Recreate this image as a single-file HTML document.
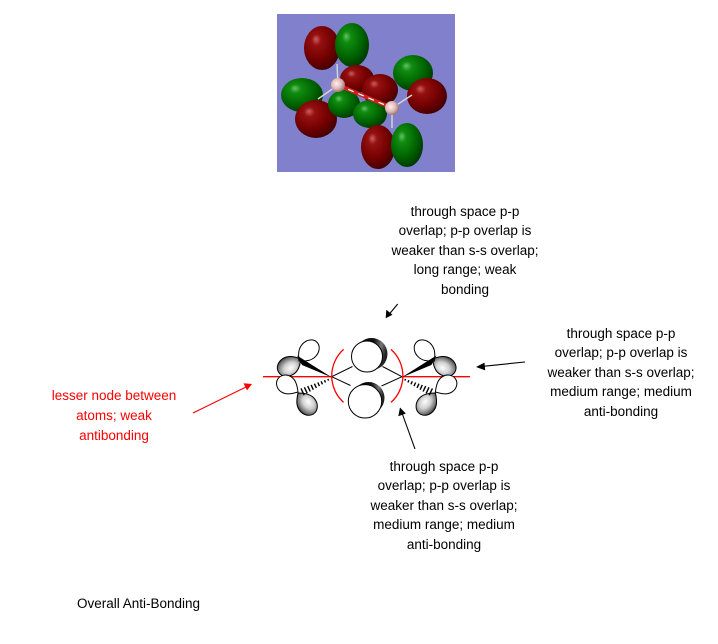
<!DOCTYPE html>
<html>
<head>
<meta charset="utf-8">
<style>
  html, body { margin:0; padding:0; background:#fff; }
  body { width:718px; height:644px; position:relative; overflow:hidden;
         font-family:"Liberation Sans", Arial, sans-serif; font-size:13.5px; color:#000; }
  .blk { position:absolute; text-align:center; line-height:19.4px; white-space:nowrap; }
  svg { position:absolute; left:0; top:0; }
</style>
</head>
<body>
<svg width="718" height="644" viewBox="0 0 718 644" xmlns="http://www.w3.org/2000/svg">
  <defs>
    <radialGradient id="rg" cx="0.4" cy="0.38" r="0.65" fx="0.33" fy="0.3">
      <stop offset="0" stop-color="#c86060"/>
      <stop offset="0.2" stop-color="#961010"/>
      <stop offset="0.65" stop-color="#720000"/>
      <stop offset="1" stop-color="#420000"/>
    </radialGradient>
    <radialGradient id="gg" cx="0.4" cy="0.38" r="0.65" fx="0.33" fy="0.3">
      <stop offset="0" stop-color="#68c068"/>
      <stop offset="0.2" stop-color="#108c10"/>
      <stop offset="0.65" stop-color="#006400"/>
      <stop offset="1" stop-color="#003800"/>
    </radialGradient>
    <radialGradient id="pk" cx="0.4" cy="0.4" r="0.6">
      <stop offset="0" stop-color="#fff0f0"/>
      <stop offset="0.6" stop-color="#e0b8b8"/>
      <stop offset="1" stop-color="#9a7a7a"/>
    </radialGradient>
    <radialGradient id="lg" cx="0.55" cy="0.4" r="0.6" fx="0.5" fy="0.35">
      <stop offset="0" stop-color="#ffffff"/>
      <stop offset="0.45" stop-color="#d0d0d0"/>
      <stop offset="0.85" stop-color="#6a6a6a"/>
      <stop offset="1" stop-color="#303030"/>
    </radialGradient>
    <linearGradient id="dk" x1="0" y1="0" x2="1" y2="0.3">
      <stop offset="0" stop-color="#000"/>
      <stop offset="0.55" stop-color="#111"/>
      <stop offset="0.8" stop-color="#777"/>
      <stop offset="1" stop-color="#222"/>
    </linearGradient>
  </defs>

  <!-- Molecular orbital picture -->
  <rect x="277" y="14" width="178" height="158" fill="#8080cc"/>
  <ellipse cx="322" cy="48" rx="18" ry="22" fill="url(#rg)"/>
  <ellipse cx="352" cy="45" rx="17" ry="22" fill="url(#gg)"/>
  <ellipse cx="302" cy="95" rx="21" ry="17" fill="url(#gg)"/>
  <ellipse cx="316" cy="119" rx="21" ry="19" fill="url(#rg)"/>
  <ellipse cx="357" cy="79" rx="17" ry="14" fill="url(#rg)"/>
  <ellipse cx="344" cy="104" rx="16" ry="14" fill="url(#gg)"/>
  <ellipse cx="380" cy="90" rx="18" ry="16" fill="url(#rg)"/>
  <ellipse cx="370" cy="114" rx="17" ry="14" fill="url(#gg)"/>
  <ellipse cx="413" cy="73" rx="20" ry="18" fill="url(#gg)"/>
  <ellipse cx="427" cy="96" rx="20" ry="18" fill="url(#rg)"/>
  <ellipse cx="378" cy="147" rx="17" ry="22" fill="url(#rg)"/>
  <ellipse cx="407" cy="145" rx="16" ry="22" fill="url(#gg)"/>
  <g stroke="#d8d8d8" stroke-width="1.4">
    <line x1="338" y1="85" x2="337" y2="64"/>
    <line x1="338" y1="85" x2="318" y2="99"/>
    <line x1="392" y1="108" x2="412" y2="95"/>
    <line x1="392" y1="108" x2="392" y2="128"/>
  </g>
  <line x1="338" y1="85" x2="392" y2="108" stroke="#d02020" stroke-width="4"/>
  <line x1="338" y1="85" x2="392" y2="108" stroke="#ffffff" stroke-width="1.2" stroke-dasharray="6 5"/>
  <circle cx="338" cy="85" r="7" fill="url(#pk)"/>
  <circle cx="392" cy="108" r="7" fill="url(#pk)"/>

  <!-- Red nodal line -->
  <line x1="263" y1="376.7" x2="332" y2="376.7" stroke="#ff0000" stroke-width="1.3"/>
  <line x1="402" y1="376.7" x2="470" y2="376.7" stroke="#ff0000" stroke-width="1.3"/>

  <!-- Left half (mirrored for right) -->
  <g id="half">
    <!-- upper p orbital -->
    <path transform="translate(301,359) rotate(150)" d="M0,0 C5,-6 9,-9.5 15,-9.5 A11,9.5 0 0 1 15,9.5 C9,9.5 5,6 0,0 Z" fill="url(#lg)" stroke="#000" stroke-width="1"/>
    <path transform="translate(299,361) rotate(-47)" d="M0,0 C5,-6 9,-9 15,-9 A11,9 0 0 1 15,9 C9,9 5,6 0,0 Z" fill="#fff" stroke="#000" stroke-width="1"/>
    <!-- lower p orbital -->
    <path transform="translate(298,392) rotate(213)" d="M0,0 C5,-6 9,-9 14,-9 A10,9 0 0 1 14,9 C9,9 5,6 0,0 Z" fill="#fff" stroke="#000" stroke-width="1"/>
    <path transform="translate(298,393) rotate(52)" d="M0,0 C5,-6 9,-9.5 15,-9.5 A11,9.5 0 0 1 15,9.5 C9,9.5 5,6 0,0 Z" fill="url(#lg)" stroke="#000" stroke-width="1"/>
    <!-- solid wedge -->
    <polygon points="297,355.5 302,365 332,377.5" fill="#000"/>
    <!-- hashed wedge -->
    <g stroke="#000" stroke-width="1.4">
      <line x1="327.8" y1="379.0" x2="328.6" y2="380.6"/>
      <line x1="324.5" y1="380.2" x2="325.5" y2="382.5"/>
      <line x1="321.1" y1="381.3" x2="322.5" y2="384.3"/>
      <line x1="317.8" y1="382.5" x2="319.4" y2="386.1"/>
      <line x1="314.4" y1="383.7" x2="316.4" y2="387.9"/>
      <line x1="311.1" y1="384.9" x2="313.3" y2="389.7"/>
      <line x1="307.7" y1="386.1" x2="310.3" y2="391.5"/>
      <line x1="304.4" y1="387.3" x2="307.2" y2="393.3"/>
      <line x1="301.0" y1="388.4" x2="304.2" y2="395.2"/>
    </g>
  </g>
  <use href="#half" transform="matrix(-1 0 0 1 733.4 0)"/>

  <!-- bonds to central lobes -->
  <g stroke="#000" stroke-width="1">
    <line x1="331.7" y1="376.7" x2="352.5" y2="366.5"/>
    <line x1="331.7" y1="376.7" x2="350.5" y2="385.5"/>
    <line x1="402" y1="376.7" x2="382.5" y2="366.5"/>
    <line x1="402" y1="376.7" x2="381.5" y2="386"/>
  </g>

  <!-- central p lobes -->
  <circle cx="371.5" cy="354" r="16" fill="url(#dk)"/>
  <circle cx="367" cy="356.5" r="15.5" fill="#fff" stroke="#000" stroke-width="1"/>
  <circle cx="368.5" cy="398" r="16" fill="url(#dk)"/>
  <circle cx="365" cy="401.3" r="16.7" fill="#fff" stroke="#000" stroke-width="1"/>

  <!-- red arcs -->
  <path d="M343.6,349.4 A35.5,35.5 0 0 0 343.6,402.4" fill="none" stroke="#ff0000" stroke-width="1.3"/>
  <path d="M391,349.4 A35.5,35.5 0 0 1 391,402.4" fill="none" stroke="#ff0000" stroke-width="1.3"/>

  <!-- arrows -->
  <g stroke="#000" stroke-width="1.1" fill="#000">
    <line x1="397.7" y1="304" x2="389" y2="314.5"/>
    <polygon points="385.7,318.3 386.3,309.8 392.5,314.8" stroke="none"/>
    <line x1="525" y1="362" x2="482" y2="366.4"/>
    <polygon points="476,367 484.5,362.6 485.2,370.4" stroke="none"/>
    <line x1="415" y1="449" x2="402" y2="413"/>
    <polygon points="400,407.5 398.3,416.2 405.8,413.5" stroke="none"/>
  </g>
  <line x1="193" y1="413" x2="246" y2="387" stroke="#ff0000" stroke-width="1.1"/>
  <polygon points="252,384 243.5,383.2 247,390.4" fill="#ff0000"/>
</svg>

<div class="blk" style="left:385px; width:160px; top:202px;">through space p-p<br>overlap; p-p overlap is<br>weaker than s-s overlap;<br>long range; weak<br>bonding</div>
<div class="blk" style="left:541px; width:160px; top:324px;">through space p-p<br>overlap; p-p overlap is<br>weaker than s-s overlap;<br>medium range; medium<br>anti-bonding</div>
<div class="blk" style="left:364px; width:160px; top:457px;">through space p-p<br>overlap; p-p overlap is<br>weaker than s-s overlap;<br>medium range; medium<br>anti-bonding</div>
<div class="blk" style="left:34px; width:160px; top:386px; line-height:20px; color:#ff0000;">lesser node between<br>atoms; weak<br>antibonding</div>
<div class="blk" style="left:77px; top:594px; text-align:left;">Overall Anti-Bonding</div>
</body>
</html>
